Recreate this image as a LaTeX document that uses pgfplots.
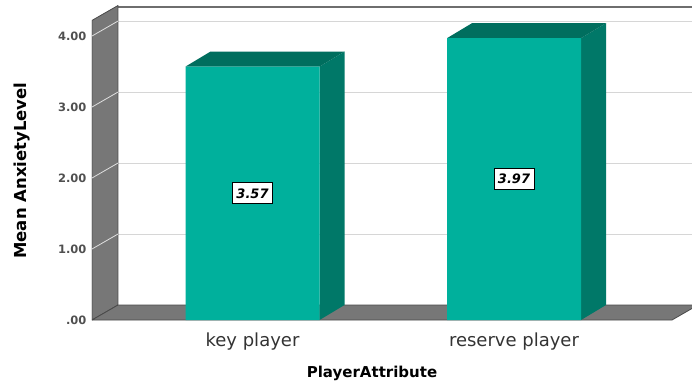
\documentclass[border=0pt]{standalone}
\usepackage{fontspec}
\setmainfont{DejaVu Sans}
\usepackage{pgfplots}
\pgfplotsset{compat=1.18}
\definecolor{frontc}{HTML}{00B09C}
\definecolor{sidec}{HTML}{007868}
\definecolor{topc}{HTML}{006E5E}
\definecolor{wallc}{HTML}{777777}
\definecolor{walledge}{HTML}{4A4A4A}
\definecolor{gridc}{HTML}{D6D6D6}
\definecolor{ticktext}{HTML}{505050}
\begin{document}
\begin{tikzpicture}
\begin{axis}[name=ax, scale only axis, width=600pt, height=314.5pt,
  xmin=92, xmax=692, ymin=0, ymax=4.43,
  axis line style={draw=none}, tick style={draw=none},
  xtick={252.5,514}, xticklabels={key player, reserve player},
  ytick={0,1,2,3,4}, yticklabels={.00,1.00,2.00,3.00,4.00},
  yticklabel style={font=\bfseries\fontsize{11.5}{13}\selectfont, text=ticktext, xshift=-2pt},
  xticklabel style={font=\fontsize{18}{21}\selectfont, text=black!80, yshift=-9pt},
  xlabel={PlayerAttribute}, ylabel={Mean AnxietyLevel},
  xlabel style={at={(rel axis cs:0.4667,-0.1685)}, anchor=center, font=\bfseries\fontsize{15}{18}\selectfont},
  ylabel style={at={(rel axis cs:-0.1167,0.475)}, anchor=center, font=\bfseries\fontsize{16.5}{19}\selectfont},
  clip=true,
]
% back wall
\addplot[fill=white, draw=none] coordinates {(118,0.211) (118,4.43) (692,4.43) (692,0.211)};
\addplot[gridc, line width=1pt] coordinates {(118,1.211) (692,1.211)};
\addplot[gridc, line width=1pt] coordinates {(118,2.211) (692,2.211)};
\addplot[gridc, line width=1pt] coordinates {(118,3.211) (692,3.211)};
\addplot[gridc, line width=1pt] coordinates {(118,4.211) (692,4.211)};
\addplot[walledge!80, line width=2.5pt] coordinates {(118,4.41) (692,4.41)};
% left wall
\addplot[fill=wallc, draw=walledge, line width=0.8pt] coordinates {(92,0) (92,4.22) (118,4.43) (118,0.211) (92,0)};
\addplot[white!75!gray, line width=0.8pt] coordinates {(92,1) (118,1.211)};
\addplot[white!75!gray, line width=0.8pt] coordinates {(92,2) (118,2.211)};
\addplot[white!75!gray, line width=0.8pt] coordinates {(92,3) (118,3.211)};
\addplot[white!75!gray, line width=0.8pt] coordinates {(92,4) (118,4.211)};
% floor
\addplot[fill=wallc, draw=walledge, line width=0.8pt] coordinates {(92,0) (118,0.211) (698,0.211) (672,0) (92,0)};
% bar: key player (3.57)
\addplot[fill=sidec, draw=none] coordinates {(319.5,0) (344.5,0.211) (344.5,3.781) (319.5,3.57)};
\addplot[fill=topc, draw=none] coordinates {(185.5,3.57) (210.5,3.781) (344.5,3.781) (319.5,3.57)};
% bar: reserve player (3.97)
\addplot[fill=sidec, draw=none] coordinates {(581,0) (606,0.211) (606,4.181) (581,3.97)};
\addplot[fill=topc, draw=none] coordinates {(447,3.97) (472,4.181) (606,4.181) (581,3.97)};
% front faces
\addplot[ybar, bar width=134, bar shift=0pt, fill=frontc, draw=none] coordinates {(252.5,3.57) (514,3.97)};
% value labels
\node[fill=white, draw=black, line width=0.8pt, inner sep=2pt, minimum width=40pt, minimum height=21pt,
  font=\bfseries\itshape\fontsize{13}{15}\selectfont] at (axis cs:252.5,1.785) {3.57};
\node[fill=white, draw=black, line width=0.8pt, inner sep=2pt, minimum width=40pt, minimum height=21pt,
  font=\bfseries\itshape\fontsize{13}{15}\selectfont] at (axis cs:514,1.985) {3.97};
\end{axis}
\pgfresetboundingbox
\path[use as bounding box] ([xshift=-92pt,yshift=-70pt]ax.south west) rectangle ([yshift=5.5pt]ax.north east);
\end{tikzpicture}
\end{document}
